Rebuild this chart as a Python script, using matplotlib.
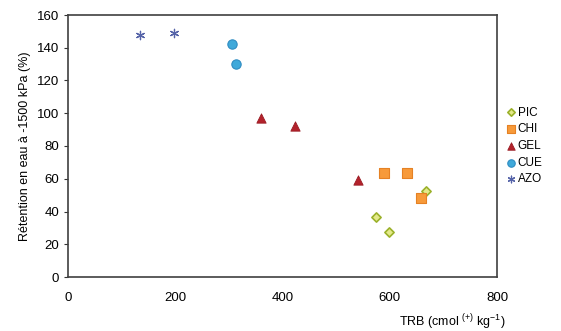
import matplotlib
matplotlib.use("Agg")
import matplotlib.pyplot as plt

plt.rcParams["font.family"] = ["Liberation Sans", "DejaVu Sans"]
plt.rcParams["mathtext.fontset"] = "custom"
plt.rcParams["mathtext.rm"] = "Liberation Sans"

# TRB (cmol(+) kg-1) and water retention at -1500 kPa (%)
pic_x = [575, 599, 668]
pic_y = [36.5, 27.5, 52.5]
chi_x = [590, 632, 659]
chi_y = [63.5, 63.5, 48]
gel_x = [360, 423, 541]
gel_y = [97, 92, 59]
cue_x = [306, 313]
cue_y = [142, 130]
azo_x = [134, 198]
azo_y = [148, 149]

fig = plt.figure(figsize=(5.61, 3.31), dpi=100)
ax = fig.add_axes([68 / 561, 1 - 277 / 331, 429 / 561, 262 / 331])

ax.scatter(pic_x, pic_y, marker="D", s=22, facecolor="#e4e98a", edgecolor="#9bb12a", linewidth=1.2, label="PIC", zorder=3)
ax.scatter(chi_x, chi_y, marker="s", s=50, facecolor="#f79a3a", edgecolor="#e58124", linewidth=0.8, label="CHI", zorder=3)
ax.scatter(gel_x, gel_y, marker="^", s=45, facecolor="#b3222c", edgecolor="#9a1c24", linewidth=0.6, label="GEL", zorder=3)
ax.scatter(cue_x, cue_y, marker="o", s=45, facecolor="#3fa9da", edgecolor="#2f8cc2", linewidth=0.8, label="CUE", zorder=3)
ax.scatter(azo_x, azo_y, marker=(6, 2, 0), s=36, color="#5563a8", linewidth=0.9, label="AZO", zorder=3)

ax.set_xlim(0, 800)
ax.set_ylim(0, 160)
ax.set_xticks([0, 200, 400, 600, 800])
ax.set_yticks(range(0, 161, 20))
ax.tick_params(axis="both", labelsize=9.5, color="#333333", length=3, width=0.8)
ax.tick_params(axis="x", length=0, pad=11)
for spine in ax.spines.values():
    spine.set_color("#404040")
    spine.set_linewidth(1.2)

ax.set_ylabel("Rétention en eau à -1500 kPa (%)", fontsize=9, labelpad=4)
fig.text(505 / 561, 1 - 322 / 331, r"TRB (cmol $^{(+)}$ kg$^{-1}$)", fontsize=9, ha="right", va="center")

ax.legend(loc="center left", bbox_to_anchor=(1.0, 0.5), frameon=False, fontsize=8.5,
          handletextpad=0.05, labelspacing=0.4, handlelength=1.0, borderaxespad=0.3,
          markerscale=0.8)

fig.savefig("out.png", dpi=100)
